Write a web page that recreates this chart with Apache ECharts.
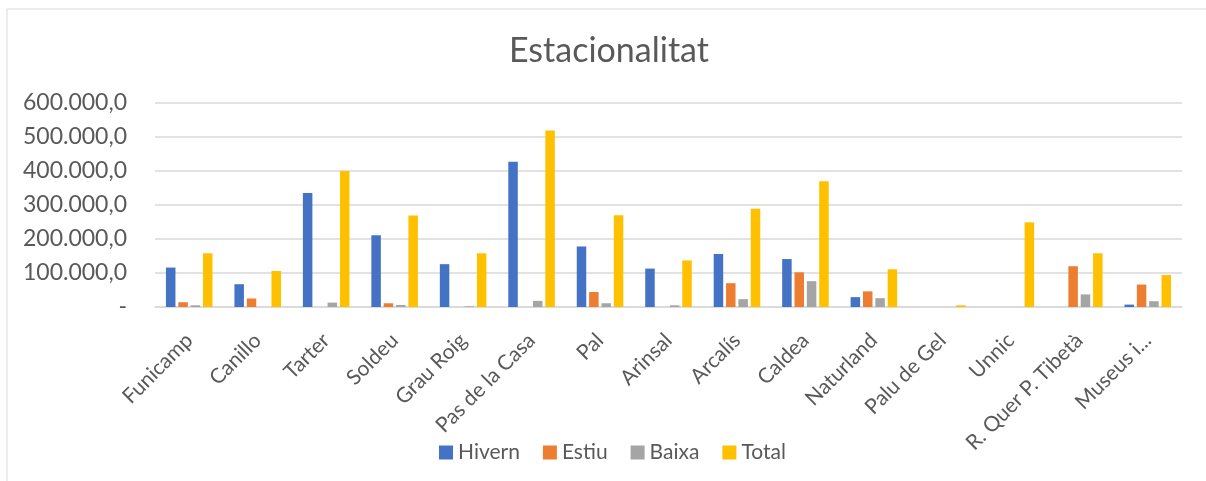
<!DOCTYPE html>
<html lang="ca">
<head>
    <meta charset="UTF-8">
    <title>Estacionalitat</title>
    <script src="https://cdn.jsdelivr.net/npm/echarts@6/dist/echarts.min.js"></script>
    <style>
        html, body { margin: 0; padding: 0; background: #fff; }
        #container { width: 1206px; height: 481px; }
    </style>
</head>
<body>
<div id="container"></div>
<script>
    var categories = ['Funicamp', 'Canillo', 'Tarter', 'Soldeu', 'Grau Roig', 'Pas de la Casa', 'Pal',
        'Arinsal', 'Arcalís', 'Caldea', 'Naturland', 'Palu de Gel', 'Unnic', 'R. Quer P. Tibetà', 'Museus i...'];
    var hivern = [116000, 67000, 335000, 211000, 126000, 427000, 178000, 113000, 156000, 141000, 29000, 0, 0, 0, 7000];
    var estiu = [14000, 25000, 0, 11000, 0, 0, 44000, 0, 70000, 102000, 46000, 0, 0, 120000, 66000];
    var baixa = [5000, 0, 13000, 6000, 2000, 18000, 11000, 5000, 23000, 76000, 26000, 0, 0, 37000, 17000];
    var total = [158000, 106000, 400000, 269000, 158000, 519000, 270000, 137000, 289000, 370000, 111000, 5000, 249000, 158000, 94000];

    var font = 'Lato, "Noto Sans", sans-serif';
    var grey = '#595959';

    function fmt(v) {
        if (v === 0) return '-';
        return String(Math.round(v)).replace(/\B(?=(\d{3})+(?!\d))/g, '.') + ',0';
    }

    function bar(name, data, color) {
        return {
            name: name,
            type: 'bar',
            data: data,
            barWidth: 9.5,
            barGap: '30%',
            itemStyle: { color: color }
        };
    }

    var options = {
        animation: false,
        textStyle: { fontFamily: font },
        title: {
            text: 'Estacionalitat',
            left: 504,
            top: 29,
            textStyle: { fontFamily: font, fontSize: 34, fontWeight: 'normal', color: grey }
        },
        graphic: [{
            type: 'rect',
            shape: { x: 7, y: 9, width: 1300, height: 600 },
            style: { fill: 'none', stroke: '#d9d9d9', lineWidth: 1 },
            silent: true
        }],
        legend: {
            top: 437,
            left: 434,
            itemWidth: 14,
            itemHeight: 14,
            itemGap: 23,
            icon: 'rect',
            textStyle: { fontFamily: font, fontSize: 21, color: grey }
        },
        grid: { left: 155, right: 24, top: 103, bottom: 174 },
        xAxis: {
            type: 'category',
            data: categories,
            axisLine: { lineStyle: { color: '#d9d9d9', width: 1.5 } },
            axisTick: { show: false },
            axisLabel: { rotate: 45, fontSize: 21, color: grey, margin: 30, interval: 0, fontFamily: font }
        },
        yAxis: {
            type: 'value',
            min: 0,
            max: 600000,
            interval: 100000,
            axisLine: { show: false },
            axisTick: { show: false },
            splitLine: { lineStyle: { color: '#d9d9d9', width: 1.5 } },
            axisLabel: { fontSize: 23, color: grey, margin: 28, formatter: fmt, fontFamily: font }
        },
        series: [
            bar('Hivern', hivern, '#4472c4'),
            bar('Estiu', estiu, '#ed7d31'),
            bar('Baixa', baixa, '#a5a5a5'),
            bar('Total', total, '#ffc000')
        ]
    };

    var myChart = echarts.init(document.getElementById('container'));
    myChart.setOption(options);
</script>
</body>
</html>
